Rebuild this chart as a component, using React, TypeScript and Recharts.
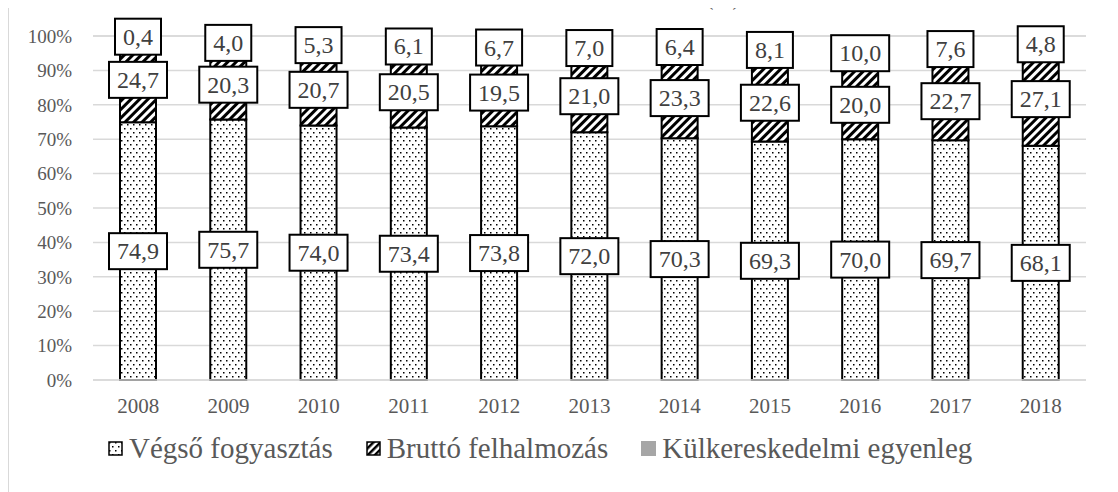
import React from "react";
import {
  BarChart,
  Bar,
  XAxis,
  YAxis,
  CartesianGrid,
  LabelList,
} from "recharts";

const years = ["2008", "2009", "2010", "2011", "2012", "2013", "2014", "2015", "2016", "2017", "2018"];
const vegsoFogyasztas = [74.9, 75.7, 74.0, 73.4, 73.8, 72.0, 70.3, 69.3, 70.0, 69.7, 68.1];
const bruttoFelhalmozas = [24.7, 20.3, 20.7, 20.5, 19.5, 21.0, 23.3, 22.6, 20.0, 22.7, 27.1];
const kulkeresEgyenleg = [0.4, 4.0, 5.3, 6.1, 6.7, 7.0, 6.4, 8.1, 10.0, 7.6, 4.8];
const yTicks = [0, 10, 20, 30, 40, 50, 60, 70, 80, 90, 100];

const seriesNames = ["Végső fogyasztás", "Bruttó felhalmozás", "Külkereskedelmi egyenleg"];
const titleText = "GDP felhasználásának alakulása és összetétele (%) 2008–2018";

const data = years.map((y, i) => ({
  year: y,
  vegso: vegsoFogyasztas[i],
  brutto: bruttoFelhalmozas[i],
  kulker: kulkeresEgyenleg[i],
}));

const FONT = "Liberation Serif, DejaVu Serif, Times New Roman, serif";
const TEXT = "#595959";

const fmt = (v: number) => v.toFixed(1).replace(".", ",");

// white box with black border, like the Excel callouts
const BoxLabel = (props: any) => {
  const { x, y, width, height, value } = props;
  if (value == null) return null;
  const s = fmt(Number(value));
  let tw = 0;
  for (const ch of s) tw += ch === "," ? 6 : 12;
  const w = tw + 16;
  const h = 36;
  const cx = Number(x) + Number(width) / 2;
  const cy = Number(y) + Number(height) / 2;
  return (
    <g>
      <rect x={cx - w / 2} y={cy - h / 2} width={w} height={h} fill="#fff" stroke="#000" strokeWidth={2} />
      <text
        x={cx}
        y={cy + 8}
        textAnchor="middle"
        style={{ fontFamily: FONT, fontSize: 24 }}
        fill="#404040"
      >
        {s}
      </text>
    </g>
  );
};

const Patterns = () => (
  <defs>
    <pattern id="dots" width="6" height="8" patternUnits="userSpaceOnUse">
      <rect width="6" height="8" fill="#fff" />
      <rect x="1" y="1" width="1.5" height="1.5" fill="#000" />
      <rect x="4" y="5" width="1.5" height="1.5" fill="#000" />
    </pattern>
    <pattern id="hatch" width="6" height="6" patternUnits="userSpaceOnUse" patternTransform="rotate(45)">
      <rect width="6" height="6" fill="#fff" />
      <rect width="3" height="6" fill="#000" />
    </pattern>
  </defs>
);

const legendFills = ["url(#ld0)", "url(#lh1)", "#a6a6a6"];

export default function App() {
  return (
    <div
      style={{
        position: "relative",
        width: 1105,
        height: 490,
        marginTop: -2,
        border: "1px solid #d9d9d9",
        boxSizing: "border-box",
        background: "#fff",
        fontFamily: FONT,
      }}
    >
      <div
        style={{
          position: "absolute",
          top: -20,
          left: 0,
          width: 1103,
          textAlign: "center",
          fontSize: 23,
          lineHeight: "22px",
          color: TEXT,
          whiteSpace: "nowrap",
          fontFamily: FONT,
        }}
      >
        {titleText}
      </div>
      <BarChart
        width={1103}
        height={483}
        data={data}
        margin={{ top: 29, right: 26, bottom: 80, left: 0 }}
        barSize={36}
        style={{ fontFamily: FONT }}
      >
        <Patterns />
        <CartesianGrid horizontal vertical={false} stroke="#d9d9d9" strokeWidth={1.5} />
        <XAxis
          dataKey="year"
          height={30}
          tickLine={false}
          tickSize={0}
          tickMargin={18}
          axisLine={{ stroke: "#d9d9d9", strokeWidth: 1.5 }}
          tick={{ fill: TEXT, fontSize: 21, fontFamily: FONT }}
        />
        <YAxis
          width={84}
          domain={[0, 100]}
          ticks={yTicks}
          interval={0}
          tickFormatter={(v: number) => `${v}%`}
          axisLine={false}
          tickLine={false}
          tickSize={0}
          tickMargin={21}
          tick={{ fill: TEXT, fontSize: 19, fontFamily: FONT }}
        />
        <Bar dataKey="vegso" stackId="a" fill="url(#dots)" stroke="#000" strokeWidth={2} isAnimationActive={false}>
          <LabelList dataKey="vegso" content={BoxLabel} />
        </Bar>
        <Bar dataKey="brutto" stackId="a" fill="url(#hatch)" stroke="#000" strokeWidth={2} isAnimationActive={false}>
          <LabelList dataKey="brutto" content={BoxLabel} />
        </Bar>
        <Bar dataKey="kulker" stackId="a" fill="#a6a6a6" stroke="#000" strokeWidth={2} isAnimationActive={false}>
          <LabelList dataKey="kulker" content={BoxLabel} />
        </Bar>
      </BarChart>
      <div
        style={{
          position: "absolute",
          left: 99,
          top: 423,
          display: "flex",
          alignItems: "center",
          height: 36,
          fontSize: 29,
          color: TEXT,
          whiteSpace: "nowrap",
          fontFamily: FONT,
        }}
      >
        {seriesNames.map((name, i) => (
          <div key={name} style={{ display: "flex", alignItems: "center", marginRight: i < 2 ? 33 : 0 }}>
            <svg width={15} height={15} style={{ display: "block" }}>
              <defs>
                <pattern id="ld0" width="6" height="8" patternUnits="userSpaceOnUse">
                  <rect width="6" height="8" fill="#fff" />
                  <rect x="1" y="1" width="1.5" height="1.5" fill="#000" />
                  <rect x="4" y="5" width="1.5" height="1.5" fill="#000" />
                </pattern>
                <pattern id="lh1" width="5" height="5" patternUnits="userSpaceOnUse" patternTransform="rotate(45)">
                  <rect width="5" height="5" fill="#fff" />
                  <rect width="2.5" height="5" fill="#000" />
                </pattern>
              </defs>
              <rect
                x={i < 2 ? 1 : 0}
                y={i < 2 ? 1 : 0}
                width={i < 2 ? 13 : 15}
                height={i < 2 ? 13 : 15}
                fill={legendFills[i]}
                stroke={i < 2 ? "#000" : "none"}
                strokeWidth={1.5}
              />
            </svg>
            <span style={{ marginLeft: 6, lineHeight: "36px" }}>{name}</span>
          </div>
        ))}
      </div>
    </div>
  );
}
